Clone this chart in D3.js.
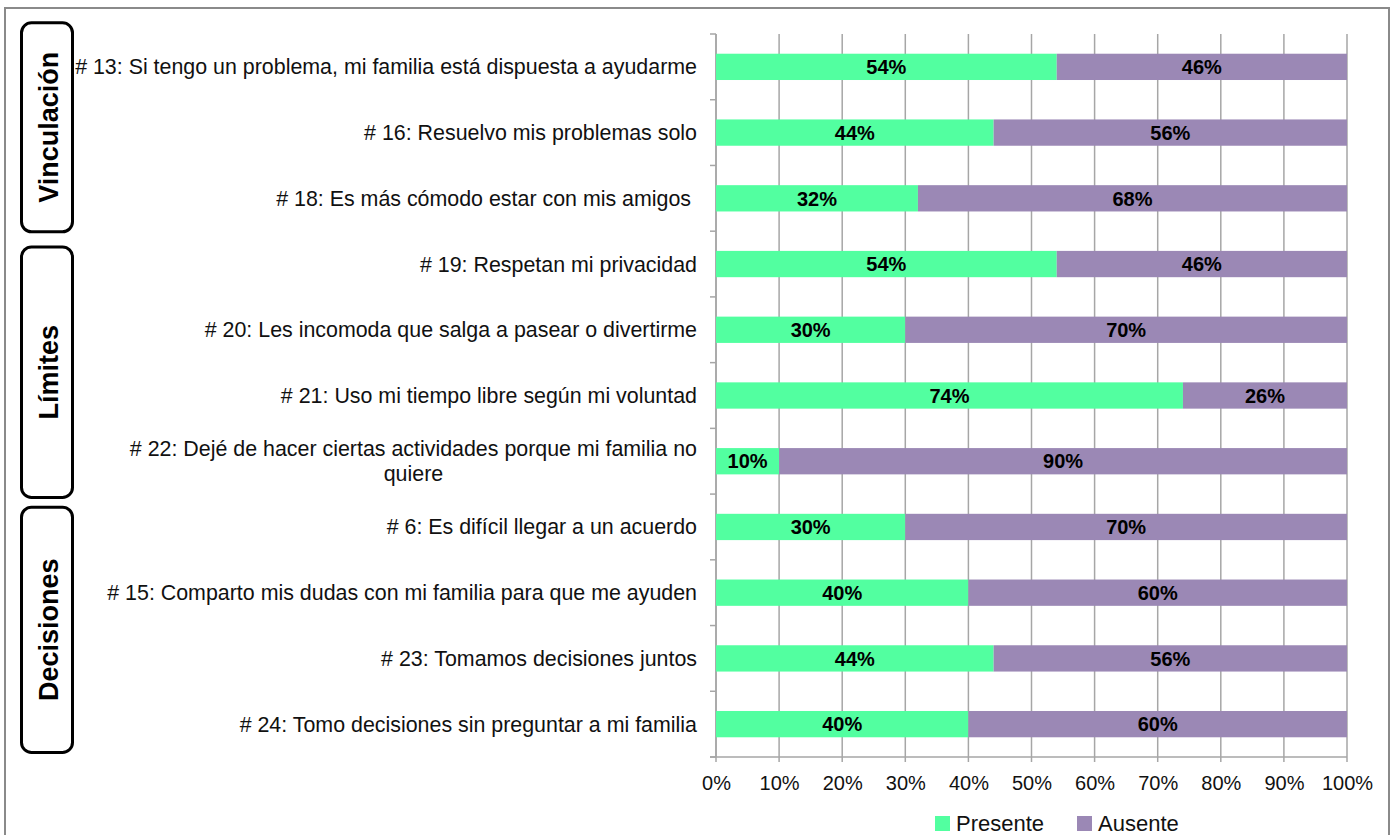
<!DOCTYPE html>
<html>
<head>
<meta charset="utf-8">
<script src="https://cdn.jsdelivr.net/npm/d3@7"></script>
<style>
html,body{margin:0;padding:0;background:#fff;}
svg{display:block;font-family:"Liberation Sans",Arial,Helvetica,sans-serif;}
.cat{white-space:pre;}
</style>
</head>
<body>
<svg id="chart" width="1398" height="835"></svg>
<script>
// ---- data ----
const categories = [
  "# 13: Si tengo un problema, mi familia está dispuesta a ayudarme",
  "# 16: Resuelvo mis problemas solo",
  "# 18: Es más cómodo estar con mis amigos ",
  "# 19: Respetan mi privacidad",
  "# 20: Les incomoda que salga a pasear o divertirme",
  "# 21: Uso mi tiempo libre según mi voluntad",
  "# 22: Dejé de hacer ciertas actividades porque mi familia no\nquiere",
  "# 6: Es difícil llegar a un acuerdo",
  "# 15: Comparto mis dudas con mi familia para que me ayuden",
  "# 23: Tomamos decisiones juntos",
  "# 24: Tomo decisiones sin preguntar a mi familia"
];
const presente = [54, 44, 32, 54, 30, 74, 10, 30, 40, 44, 40];
const ausente  = [46, 56, 68, 46, 70, 26, 90, 70, 60, 56, 60];
const seriesNames = ["Presente", "Ausente"];
const xTicks = [0, 10, 20, 30, 40, 50, 60, 70, 80, 90, 100];
const groupNames = ["Vinculación", "Límites", "Decisiones"];
const groupCounts = [3, 4, 4];

// ---- layout ----
const colors = {Presente: "#52FFA0", Ausente: "#9B88B5"};
const svg = d3.select("#chart");
const pLeft = 716, pRight = 1347, pTop = 34, pBottom = 757;

const x = d3.scaleLinear().domain([0, 100]).range([pLeft, pRight]);
const y = d3.scaleBand().domain(categories).range([pTop, pBottom])
  .paddingInner(0.6).paddingOuter(0.3);
const step = y.step();

// outer border
svg.append("rect").attr("x", 5).attr("y", 8).attr("width", 1384).attr("height", 840)
  .attr("fill", "none").attr("stroke", "#8a8a8a").attr("stroke-width", 2);

// gridlines
svg.append("g").selectAll("line").data(xTicks).join("line")
  .attr("x1", d => x(d)).attr("x2", d => x(d))
  .attr("y1", pTop).attr("y2", pBottom + 5)
  .attr("stroke", "#a6a6a6").attr("stroke-width", 1.5);

// y axis line and ticks at category boundaries
svg.append("line").attr("x1", pLeft).attr("x2", pLeft).attr("y1", pTop).attr("y2", pBottom)
  .attr("stroke", "#a6a6a6").attr("stroke-width", 1.5);
const boundaries = d3.range(categories.length + 1).map(i => pTop + i * step);
svg.append("g").selectAll("line").data(boundaries).join("line")
  .attr("x1", pLeft - 6).attr("x2", pLeft)
  .attr("y1", d => d).attr("y2", d => d)
  .attr("stroke", "#a6a6a6").attr("stroke-width", 1.5);

// x axis
const xAxis = d3.axisBottom(x).tickValues(xTicks).tickFormat(d => d + "%").tickSize(0).tickPadding(19);
const gx = svg.append("g").attr("transform", `translate(0,${pBottom})`).call(xAxis);
gx.select(".domain").attr("stroke", "#a6a6a6").attr("stroke-width", 1.5).attr("d", `M${pLeft - 6},0H${pRight}`);
gx.selectAll("text").attr("font-size", 20).attr("fill", "#111")
  .attr("font-family", "'Liberation Sans',Arial,sans-serif");

// stacked bars
const rows = categories.map((c, i) => ({cat: c, Presente: presente[i], Ausente: ausente[i]}));
const stack = d3.stack().keys(seriesNames)(rows);
const layers = svg.append("g").selectAll("g").data(stack).join("g")
  .attr("fill", d => colors[d.key]);
layers.selectAll("rect").data(d => d).join("rect")
  .attr("x", d => x(d[0])).attr("width", d => x(d[1]) - x(d[0]))
  .attr("y", d => y(d.data.cat)).attr("height", y.bandwidth());
layers.selectAll("text").data(d => d).join("text")
  .attr("x", d => (x(d[0]) + x(d[1])) / 2)
  .attr("y", d => y(d.data.cat) + y.bandwidth() / 2)
  .attr("dy", "0.36em").attr("text-anchor", "middle")
  .attr("font-size", 20).attr("font-weight", "bold").attr("fill", "#000")
  .text(d => (d[1] - d[0]) + "%");

// category labels
const labelRight = pLeft - 19;
categories.forEach(c => {
  const lines = c.split("\n");
  const cy = y(c) + y.bandwidth() / 2;
  const lh = 25;
  const t = svg.append("text").attr("class", "cat").attr("font-size", 21.4).attr("fill", "#111");
  lines.forEach((ln, i) => {
    t.append("tspan").attr("x", 0).attr("y", cy + (i - (lines.length - 1) / 2) * lh)
      .attr("dy", "0.35em").text(ln);
  });
  if (lines.length === 1) {
    t.attr("text-anchor", "end").selectAll("tspan").attr("x", labelRight);
  } else {
    let maxW = 0;
    t.selectAll("tspan").each(function () { maxW = Math.max(maxW, this.getComputedTextLength()); });
    t.attr("text-anchor", "middle").selectAll("tspan").attr("x", labelRight - maxW / 2);
  }
});

// group boxes (extents in band-step units from top boundary)
const groupExtents = [[-0.17, 3.01], [3.24, 7.05], [7.2, 10.93]];
groupNames.forEach((name, i) => {
  const y0 = pTop + groupExtents[i][0] * step;
  const y1 = pTop + groupExtents[i][1] * step;
  svg.append("rect").attr("x", 21.5).attr("y", y0).attr("width", 51).attr("height", y1 - y0)
    .attr("rx", 10).attr("ry", 10)
    .attr("fill", "#fff").attr("stroke", "#000").attr("stroke-width", 3);
  const cx = 48, cy = (y0 + y1) / 2;
  svg.append("text").attr("transform", `translate(${cx},${cy}) rotate(-90)`)
    .attr("text-anchor", "middle").attr("dy", "0.36em")
    .attr("font-size", 27).attr("font-weight", "bold").attr("fill", "#000")
    .text(name);
});

// legend
const legendItems = [{name: "Presente", x: 935}, {name: "Ausente", x: 1077}];
const lg = svg.append("g").selectAll("g").data(legendItems).join("g")
  .attr("transform", d => `translate(${d.x},816)`);
lg.append("rect").attr("width", 15).attr("height", 15).attr("fill", d => colors[d.name]);
lg.append("text").attr("x", 21).attr("y", 15).attr("font-size", 22).attr("fill", "#111").text(d => d.name);
</script>
</body>
</html>
